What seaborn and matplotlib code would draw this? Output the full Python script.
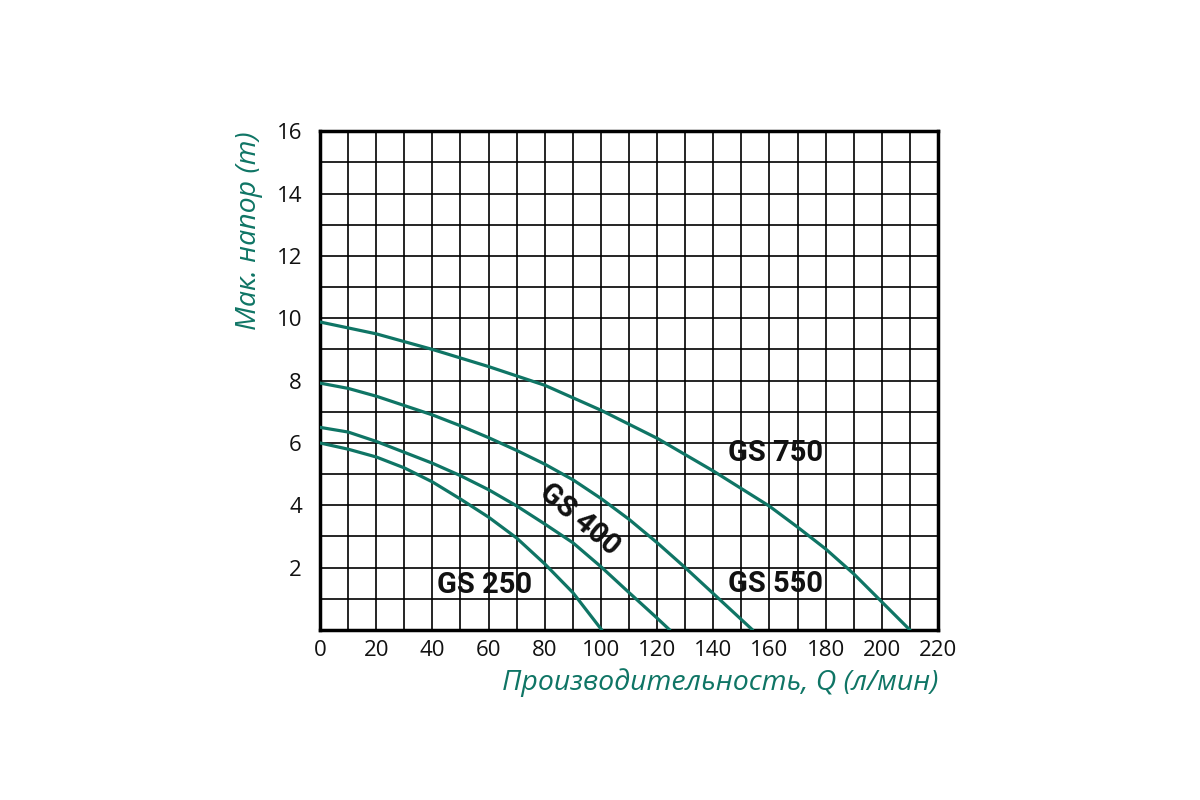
import numpy as np
import matplotlib
matplotlib.use("Agg")
import matplotlib.pyplot as plt
import seaborn as sns
import pandas as pd

# pump curves: flow Q (l/min) vs head H (m)
q_250 = [0, 10, 20, 30, 40, 50, 60, 70, 80, 90, 100.3]
h_250 = [6.0, 5.8, 5.55, 5.2, 4.75, 4.2, 3.62, 2.95, 2.12, 1.2, 0.0]

q_400 = [0, 10, 20, 30, 40, 50, 60, 70, 80, 90, 100, 110, 120, 124.5]
h_400 = [6.5, 6.35, 6.05, 5.7, 5.35, 4.95, 4.5, 3.98, 3.4, 2.8, 2.03, 1.2, 0.38, 0.0]

q_550 = [0, 10, 20, 30, 40, 50, 60, 70, 80, 90, 100, 110, 120, 130, 142, 154]
h_550 = [7.92, 7.75, 7.5, 7.2, 6.9, 6.55, 6.17, 5.76, 5.32, 4.82, 4.22, 3.55, 2.8, 2.0, 1.0, 0.0]

q_750 = [0, 20, 40, 60, 80, 100, 120, 140, 160, 170, 180, 190, 200, 210]
h_750 = [9.88, 9.5, 9.0, 8.45, 7.85, 7.05, 6.15, 5.1, 3.97, 3.3, 2.6, 1.8, 0.9, 0.0]

models = ["GS 250", "GS 400", "GS 550", "GS 750"]
x_ticks = list(range(0, 221, 20))
y_ticks = list(range(2, 17, 2))

teal = "#0f7565"

frames = []
for name, q, h in zip(models, [q_250, q_400, q_550, q_750], [h_250, h_400, h_550, h_750]):
    frames.append(pd.DataFrame({"Q": q, "H": h, "model": name}))
df = pd.concat(frames, ignore_index=True)

sns.set_style("white")
plt.rcParams["font.family"] = ["Open Sans", "DejaVu Sans"]

fig = plt.figure(figsize=(12, 8), dpi=100)
ax = fig.add_axes([0.2667, 0.2125, 0.515, 0.6235])

sns.lineplot(data=df, x="Q", y="H", hue="model", palette=[teal] * 4,
             linewidth=2.3, legend=False, ax=ax, sort=False, zorder=3,
             solid_joinstyle="round")

ax.set_xlim(0, 220)
ax.set_ylim(0, 16)
ax.set_xticks(np.arange(0, 221, 10), minor=True)
ax.set_yticks(np.arange(0, 17, 1), minor=True)
ax.set_xticks(x_ticks)
ax.set_yticks(y_ticks)
ax.set_xticklabels([str(v) for v in x_ticks], fontsize=16, color="#111111")
ax.set_yticklabels([str(v) for v in y_ticks], fontsize=16, color="#111111")
ax.grid(True, which="both", color="black", linewidth=1.2)
ax.tick_params(which="both", length=0)
ax.tick_params(axis="x", pad=7)
ax.tick_params(axis="y", pad=13)
for s in ax.spines.values():
    s.set_visible(True)
    s.set_color("black")
    s.set_linewidth(2.5)

ax.set_xlabel("Производительность, Q (л/мин)", fontsize=20.5, style="italic",
              color=teal, loc="right", labelpad=5)
ax.set_ylabel("Мак. напор (m)", fontsize=20.5, style="italic",
              color=teal, loc="top", labelpad=10)

lab = dict(fontsize=21, fontweight="bold", color="#111111",
           family=["Roboto", "DejaVu Sans"], ha="center", va="center", zorder=4)
ax.text(162, 5.67, "GS 750", **lab)
ax.text(162, 1.48, "GS 550", **lab)
ax.text(58.5, 1.45, "GS 250", **lab)
ax.text(92.5, 3.55, "GS 400", rotation=-40, rotation_mode="anchor", **lab)

fig.savefig("out.png", dpi=100, facecolor="white")
